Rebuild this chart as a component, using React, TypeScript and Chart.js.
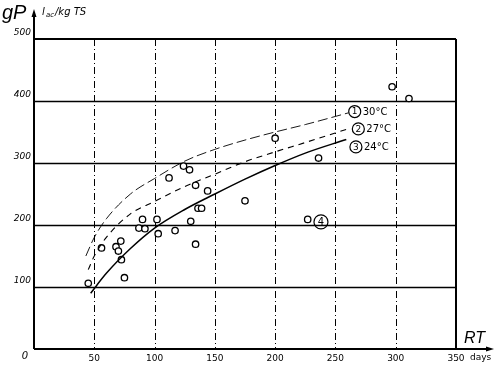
import React, { useEffect, useRef } from 'react';
import { Chart, registerables } from 'chart.js';
Chart.register(...registerables);

// ---- data ----
const X_TICKS = [0, 50, 100, 150, 200, 250, 300, 350];
const Y_TICKS = [0, 100, 200, 300, 400, 500];

const SAMPLE_DAYS = [45, 56, 68, 70, 72, 72.5, 75, 87, 90, 92, 102, 103, 112, 117, 124, 129, 130, 134, 134, 136, 139, 144, 175, 200, 227, 236, 297, 311];
const SAMPLE_GP = [106, 163, 165, 158, 174, 144, 115, 195, 209, 194, 209, 186, 276, 191, 295, 289, 206, 264, 169, 227, 227, 255, 239, 340, 209, 308, 423, 404];

const C30_DAYS = [43, 50, 60, 80, 100, 125, 150, 175, 200, 225, 261];
const C30_GP = [150, 180, 210, 250, 275, 303, 322, 337, 350, 362, 381];
const C27_DAYS = [45, 50, 60, 80, 100, 125, 150, 175, 200, 225, 262];
const C27_GP = [128, 150, 180, 218, 238, 262, 282, 302, 318, 333, 356];
const C24_DAYS = [47, 60, 80, 100, 125, 150, 175, 200, 225, 259];
const C24_GP = [90, 122, 162, 195, 225, 250, 274, 296, 316, 338];

const CURVE_NUMS = ['1', '2', '3'];
const CURVE_LABELS = ['30°C', '27°C', '24°C'];
const LABEL_DAYS = [266, 269, 267];
const LABEL_GP = [383, 355, 326];

const NOTE4_DAYS = 238;
const NOTE4_GP = 205;
const NOTE4_TEXT = '4';

const toPts = (xs: number[], ys: number[]) => xs.map((v, i) => ({ x: v, y: ys[i] }));

const FONT = '"DejaVu Sans", sans-serif';

const decor = {
  id: 'decor',
  beforeDraw(chart: any) {
    const { ctx, width, height } = chart;
    ctx.save();
    ctx.fillStyle = '#fff';
    ctx.fillRect(0, 0, width, height);
    ctx.restore();
  },
  beforeDatasetsDraw(chart: any) {
    const { ctx, chartArea: a, scales } = chart;
    const x = scales.x, y = scales.y;
    ctx.save();
    ctx.strokeStyle = '#000';
    Y_TICKS.forEach((v) => {
      if (v === 0 || v === 500) return;
      const py = Math.round(y.getPixelForValue(v)) + 0.5;
      ctx.lineWidth = 1.4;
      ctx.setLineDash([]);
      ctx.beginPath();
      ctx.moveTo(a.left, py);
      ctx.lineTo(a.right, py);
      ctx.stroke();
    });
    X_TICKS.forEach((v) => {
      if (v === 0 || v === 350) return;
      const px = Math.round(x.getPixelForValue(v)) + 0.5;
      ctx.lineWidth = 1;
      ctx.setLineDash([7, 3, 1, 3]);
      ctx.beginPath();
      ctx.moveTo(px, a.top);
      ctx.lineTo(px, a.bottom);
      ctx.stroke();
    });
    ctx.restore();
  },
  afterDatasetsDraw(chart: any) {
    const { ctx, chartArea: a, scales } = chart;
    const x = scales.x, y = scales.y;
    ctx.save();
    ctx.strokeStyle = '#000';
    ctx.fillStyle = '#000';
    ctx.setLineDash([]);
    // top and right border
    ctx.lineWidth = 2;
    const top = y.getPixelForValue(500);
    const right = x.getPixelForValue(350);
    ctx.beginPath();
    ctx.moveTo(a.left, top);
    ctx.lineTo(right, top);
    ctx.moveTo(right, top);
    ctx.lineTo(right, a.bottom);
    ctx.stroke();
    // axes
    const ox = x.getPixelForValue(0);
    const oy = y.getPixelForValue(0);
    ctx.beginPath();
    ctx.moveTo(ox, oy);
    ctx.lineTo(ox, 14);
    ctx.moveTo(ox, oy);
    ctx.lineTo(489, oy);
    ctx.stroke();
    ctx.beginPath();
    ctx.moveTo(ox, 9);
    ctx.lineTo(ox - 2.5, 17);
    ctx.lineTo(ox + 2.5, 17);
    ctx.closePath();
    ctx.fill();
    ctx.beginPath();
    ctx.moveTo(494, oy);
    ctx.lineTo(486, oy - 2.5);
    ctx.lineTo(486, oy + 2.5);
    ctx.closePath();
    ctx.fill();

    // curve labels
    ctx.lineWidth = 1.2;
    CURVE_NUMS.forEach((n, i) => {
      const cx = x.getPixelForValue(LABEL_DAYS[i]);
      const cy = y.getPixelForValue(LABEL_GP[i]);
      ctx.beginPath();
      ctx.arc(cx, cy, 6, 0, Math.PI * 2);
      ctx.fillStyle = '#fff';
      ctx.fill();
      ctx.stroke();
      ctx.fillStyle = '#000';
      ctx.font = `9px ${FONT}`;
      ctx.textAlign = 'center';
      ctx.textBaseline = 'middle';
      ctx.fillText(n, cx, cy + 0.5);
      ctx.font = `10px ${FONT}`;
      ctx.textAlign = 'left';
      ctx.fillText(CURVE_LABELS[i], cx + 8, cy + 0.5);
    });
    // note 4
    {
      const cx = x.getPixelForValue(NOTE4_DAYS);
      const cy = y.getPixelForValue(NOTE4_GP);
      ctx.beginPath();
      ctx.arc(cx, cy, 7, 0, Math.PI * 2);
      ctx.stroke();
      ctx.font = `10px ${FONT}`;
      ctx.textAlign = 'center';
      ctx.textBaseline = 'middle';
      ctx.fillText(NOTE4_TEXT, cx, cy + 0.5);
    }

    // titles
    ctx.textAlign = 'left';
    ctx.textBaseline = 'alphabetic';
    ctx.font = `italic 20px "Liberation Sans", sans-serif`;
    ctx.fillText('gP', 2, 19);
    ctx.font = `italic 10px ${FONT}`;
    ctx.fillText('l', 42, 15);
    ctx.font = `italic 7px ${FONT}`;
    ctx.fillText('ac', 46, 17);
    ctx.font = `italic 10px ${FONT}`;
    ctx.fillText('/kg TS', 55, 15);
    ctx.font = `italic 16px "Liberation Sans", sans-serif`;
    ctx.fillText('RT', 464, 343);
    ctx.font = `9px ${FONT}`;
    ctx.textBaseline = 'middle';
    ctx.fillText('days', 470, 358);
    ctx.textAlign = 'center';
    ctx.font = `italic 10px ${FONT}`;
    ctx.fillText('0', 25, 356);
    ctx.restore();
  },
};

export default function App() {
  const ref = useRef<HTMLCanvasElement | null>(null);
  useEffect(() => {
    if (!ref.current) return;
    const chart = new Chart(ref.current, {
      type: 'scatter',
      data: {
        datasets: [
          {
            label: '30°C',
            data: toPts(C30_DAYS, C30_GP),
            showLine: true,
            borderColor: '#000',
            borderWidth: 0.9,
            borderDash: [10, 4],
            pointRadius: 0,
            tension: 0.4,
            cubicInterpolationMode: 'monotone',
          },
          {
            label: '27°C',
            data: toPts(C27_DAYS, C27_GP),
            showLine: true,
            borderColor: '#000',
            borderWidth: 1.1,
            borderDash: [6, 5],
            pointRadius: 0,
            tension: 0.4,
            cubicInterpolationMode: 'monotone',
          },
          {
            label: '24°C',
            data: toPts(C24_DAYS, C24_GP),
            showLine: true,
            borderColor: '#000',
            borderWidth: 1.5,
            pointRadius: 0,
            tension: 0.4,
            cubicInterpolationMode: 'monotone',
          },
          {
            label: 'samples',
            data: toPts(SAMPLE_DAYS, SAMPLE_GP),
            showLine: false,
            pointRadius: 3.2,
            pointBorderWidth: 1.3,
            pointBackgroundColor: '#fff',
            pointBorderColor: '#000',
          },
        ],
      },
      options: {
        animation: false,
        responsive: false,
        events: [],
        layout: { padding: { top: 39, right: 39, left: 0, bottom: 0 } },
        plugins: { legend: { display: false }, tooltip: { enabled: false } },
        scales: {
          x: {
            type: 'linear',
            min: 0,
            max: 350,
            afterFit: (s: any) => { s.height = 19; },
            afterBuildTicks: (s: any) => { s.ticks = X_TICKS.map((v) => ({ value: v })); },
            grid: { display: false, drawTicks: false },
            border: { display: false },
            ticks: {
              color: '#000',
              padding: 4,
              maxRotation: 0,
              autoSkip: false,
              font: { family: 'DejaVu Sans', size: 9 },
              callback: (v: any) => (v === 0 ? '' : String(v)),
            },
          },
          y: {
            type: 'linear',
            min: 0,
            max: 500,
            afterFit: (s: any) => { s.width = 34; },
            afterBuildTicks: (s: any) => { s.ticks = Y_TICKS.map((v) => ({ value: v })); },
            grid: { display: false, drawTicks: false },
            border: { display: false },
            ticks: {
              color: '#000',
              padding: 3,
              labelOffset: -6,
              font: { family: 'DejaVu Sans', size: 9, style: 'italic' },
              callback: (v: any) => (v === 0 ? '' : String(v)),
            },
          },
        },
      },
      plugins: [decor],
    } as any);
    return () => chart.destroy();
  }, []);
  return (
    <div style={{ position: 'fixed', left: 0, top: 0 }}>
      <canvas ref={ref} width={495} height={368} style={{ display: 'block', width: 495, height: 368 }} />
    </div>
  );
}
